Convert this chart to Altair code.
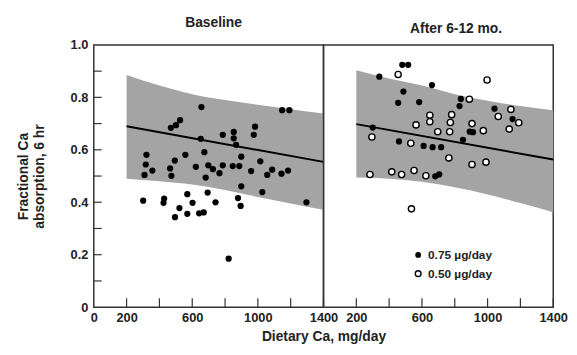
import altair as alt
import pandas as pd

# ---------------- data ----------------
# Baseline panel (all filled points)
base_x = [656, 526, 501, 470, 1148, 1192, 652, 786, 853, 853, 867, 983, 975,
          321, 317, 357, 309, 494, 465, 473, 558, 674, 622, 698, 726, 766, 786,
          682, 847, 887, 899, 1015, 959, 1087, 1057, 1144, 1184,
          899, 1027, 301, 429, 425, 570, 602, 694, 522, 570, 495, 642, 670,
          742, 879, 895, 1296, 822]
base_y = [0.763, 0.713, 0.694, 0.684, 0.751, 0.751, 0.642, 0.657, 0.668, 0.644, 0.619, 0.688, 0.657,
          0.581, 0.544, 0.521, 0.504, 0.559, 0.529, 0.501, 0.581, 0.591, 0.535, 0.541, 0.526, 0.511, 0.541,
          0.494, 0.538, 0.538, 0.574, 0.556, 0.519, 0.524, 0.504, 0.509, 0.521,
          0.461, 0.439, 0.406, 0.414, 0.398, 0.431, 0.398, 0.437, 0.378, 0.356, 0.343, 0.358, 0.361,
          0.400, 0.416, 0.386, 0.400, 0.185]

# After 6-12 mo. panel, 0.75 ug/day (filled)
hi_x = [480, 516, 340, 661, 487, 455, 583, 837, 829, 1042, 1152, 891, 911,
        300, 850, 460, 610, 665, 717, 681, 705]
hi_y = [0.924, 0.924, 0.879, 0.847, 0.822, 0.779, 0.782, 0.794, 0.767, 0.757, 0.717, 0.669, 0.667,
        0.685, 0.638, 0.632, 0.615, 0.610, 0.610, 0.499, 0.506]

# After 6-12 mo. panel, 0.50 ug/day (open)
lo_x = [455, 997, 889, 648, 781, 564, 648, 773, 905, 1065, 1142, 1190, 1132,
        696, 769, 974, 295, 532, 764, 905, 990, 283, 416, 476, 552, 624, 536]
lo_y = [0.887, 0.866, 0.793, 0.732, 0.734, 0.695, 0.707, 0.704, 0.700, 0.727, 0.754, 0.703, 0.679,
        0.669, 0.669, 0.673, 0.649, 0.625, 0.569, 0.544, 0.553, 0.506, 0.516, 0.506, 0.521, 0.501, 0.375]

# Prediction bands and regression lines
band_x = [200, 400, 600, 800, 1000, 1200, 1400]
base_upper = [0.885, 0.845, 0.812, 0.790, 0.772, 0.755, 0.738]
base_lower = [0.490, 0.480, 0.468, 0.447, 0.420, 0.395, 0.371]
after_upper = [0.903, 0.872, 0.845, 0.812, 0.787, 0.767, 0.751]
after_lower = [0.494, 0.490, 0.478, 0.457, 0.430, 0.397, 0.362]

line_x = [200, 1400]
base_line_y = [0.690, 0.554]
after_line_y = [0.698, 0.563]

titles = ["Baseline", "After 6-12 mo."]
legend_labels = ["0.75 \u00b5g/day", "0.50 \u00b5g/day"]
y_title = ["Fractional Ca", "absorption, 6 hr"]
x_title = "Dietary Ca, mg/day"
x_labels_left = [0, 200, 600, 1000, 1400]
x_labels_right = [200, 600, 1000, 1400]
x_ticks = [200, 400, 600, 800, 1000, 1200, 1400]
y_labels = [0, 0.2, 0.4, 0.6, 0.8, 1.0]
y_ticks = [0.1, 0.2, 0.3, 0.4, 0.5, 0.6, 0.7, 0.8, 0.9]

# ---------------- chart ----------------
W, H = 233, 266
FONT = "Liberation Sans"
BAND = "#a4a4a4"
INK = "#222"

xs = alt.Scale(domain=[0, 1400], nice=False, zero=False)
ys = alt.Scale(domain=[0, 1.0], nice=False)


def panel(title, upper, lower, ly, points, left):
    band_df = pd.DataFrame({"x": band_x, "lo": lower, "hi": upper})
    line_df = pd.DataFrame({"x": line_x, "y": ly})
    common = dict(ticks=False, domain=False, grid=False, labelFontSize=13, labelFontWeight="bold",
                  labelFont=FONT, labelColor=INK, labelFlush=False)
    if left:
        xaxis = alt.Axis(values=x_labels_left, format="d", labelPadding=5, title=x_title,
                         titleX=W, titleFontSize=14, titleFontWeight="bold", titleFont=FONT,
                         titleColor=INK, titlePadding=5, **common)
        yaxis = alt.Axis(values=y_labels,
                         labelExpr="datum.value == 0 ? '0' : format(datum.value, '.1f')",
                         labelPadding=6, title=y_title, titleFontSize=14, titleFontWeight="bold",
                         titleFont=FONT, titleColor=INK, titleLineHeight=16, titlePadding=24,
                         **common)
    else:
        xaxis = alt.Axis(values=x_labels_right, format="d", labelPadding=5, title=None, **common)
        yaxis = None

    band = alt.Chart(band_df).mark_area(color=BAND, opacity=1, interpolate="monotone").encode(
        x=alt.X("x:Q", scale=xs, axis=xaxis),
        y=alt.Y("lo:Q", scale=ys, axis=yaxis),
        y2="hi:Q",
    )
    line = alt.Chart(line_df).mark_line(color="black", strokeWidth=2).encode(
        x=alt.X("x:Q", scale=xs), y=alt.Y("y:Q", scale=ys)
    )
    layers = [band, line]
    for (px, py, filled) in points:
        df = pd.DataFrame({"x": px, "y": py})
        m = alt.Chart(df).mark_point(
            shape="circle", size=40, filled=True,
            fill="black" if filled else "white", stroke="black",
            strokeWidth=0 if filled else 1.4, opacity=1,
        ).encode(x=alt.X("x:Q", scale=xs), y=alt.Y("y:Q", scale=ys))
        layers.append(m)

    xt = pd.DataFrame({"v": x_ticks})
    layers.append(alt.Chart(xt).mark_rule(color="#333", strokeWidth=1.2).encode(
        x=alt.X("v:Q", scale=xs), y=alt.value(H), y2=alt.value(H - 9)))
    if left:
        yt = pd.DataFrame({"v": y_ticks})
        layers.append(alt.Chart(yt).mark_rule(color="#333", strokeWidth=1.2).encode(
            y=alt.Y("v:Q", scale=ys), x=alt.value(0), x2=alt.value(8)))
    else:
        for i, lab in enumerate(legend_labels):
            ldf = pd.DataFrame({"label": [lab]})
            yy = 213 + i * 19
            layers.append(alt.Chart(ldf).mark_point(
                shape="circle", size=34, filled=True, fill="black" if i == 0 else "white",
                stroke="black", strokeWidth=0 if i == 0 else 1.4, opacity=1,
            ).encode(x=alt.value(96), y=alt.value(yy)))
            layers.append(alt.Chart(ldf).mark_text(
                align="left", baseline="middle", font=FONT, fontSize=12, fontWeight="bold",
                color=INK,
            ).encode(x=alt.value(106), y=alt.value(yy), text="label:N"))

    return alt.layer(*layers).properties(
        width=W, height=H,
        title=alt.TitleParams(title, fontSize=14, fontWeight="bold", font=FONT, color=INK,
                              offset=9, dx=5 if left else 18),
    )


left = panel(titles[0], base_upper, base_lower, base_line_y,
             [(base_x, base_y, True)], True)
right = panel(titles[1], after_upper, after_lower, after_line_y,
              [(hi_x, hi_y, True), (lo_x, lo_y, False)], False)

chart = alt.hconcat(left, right, spacing=0, bounds="flush").properties(
    padding={"left": 8, "top": 5, "right": 0, "bottom": 2},
    background="white",
).configure_view(stroke="#333", strokeWidth=1.5)

chart.save("out.html", embed_options={"renderer": "svg", "actions": False})
